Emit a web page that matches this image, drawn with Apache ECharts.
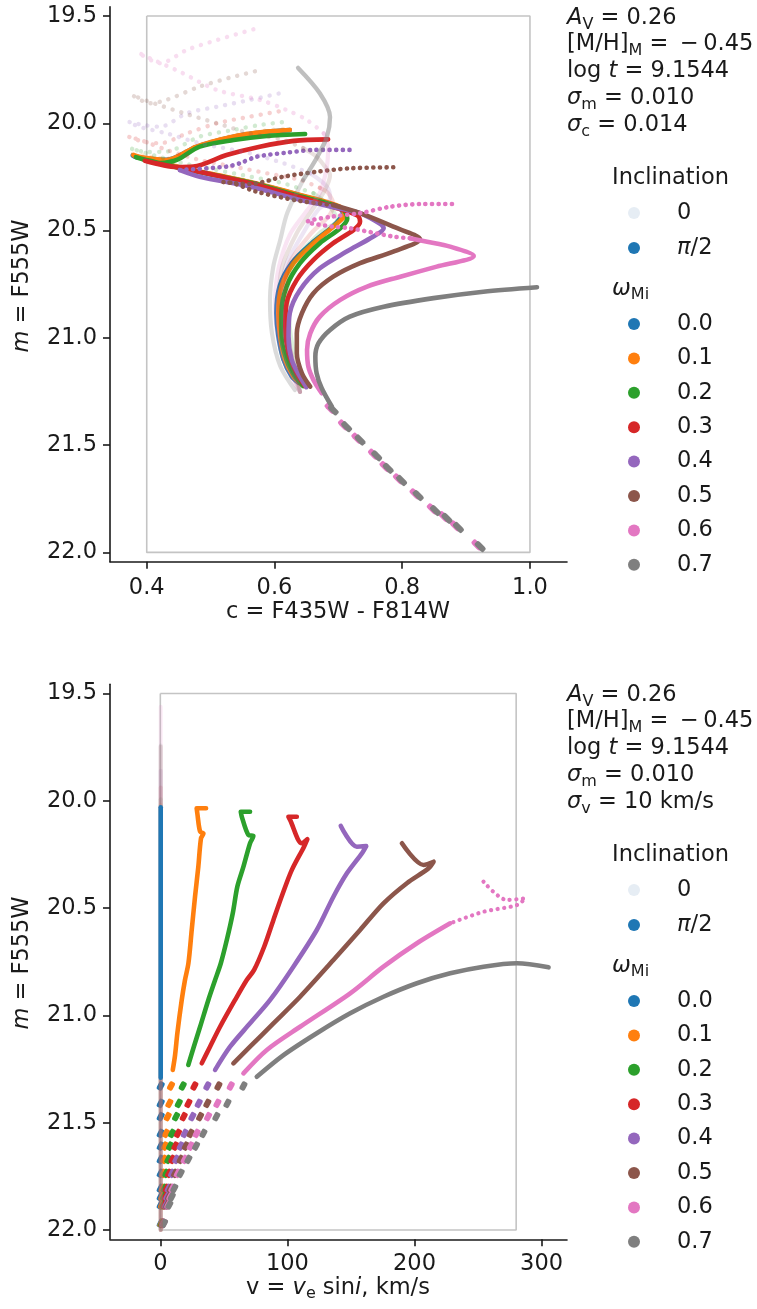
<!DOCTYPE html>
<html><head><meta charset="utf-8">
<script src="https://cdn.jsdelivr.net/npm/echarts@6/dist/echarts.min.js"></script>
<style>html,body{margin:0;padding:0;background:#fff}#c{width:757px;height:1309px}</style>
</head><body><div id="c"></div>
<script>
// ---------------- DATA ----------------
const omegaLabels = ['0.0','0.1','0.2','0.3','0.4','0.5','0.6','0.7'];
const inclinationLabels = ['0','π/2'];
const cmdXTicks = [0.4, 0.6, 0.8, 1.0];
const magTicks = [19.5, 20.0, 20.5, 21.0, 21.5, 22.0];
const vXTicks = [0, 100, 200, 300];
const cmdBox = [[0.4,19.5],[1.0,19.5],[1.0,22.0],[0.4,22.0],[0.4,19.5]];
const vBox = [[0,19.5],[280,19.5],[280,22.0],[0,22.0],[0,19.5]];

// top panel: colour c vs magnitude m, inclination pi/2 (dense parts)
const cmdEdge0 = [[0.638,21.21],[0.627,21.18],[0.614,21.10],[0.606,20.99],[0.603,20.885],[0.608,20.76],[0.627,20.652],[0.658,20.56],[0.690,20.485],[0.704,20.44],[0.707,20.42],[0.700,20.39],[0.640,20.335],[0.562,20.276],[0.457,20.21],[0.405,20.172],[0.378,20.15],[0.384,20.158],[0.431,20.17],[0.478,20.11],[0.536,20.063],[0.588,20.04],[0.624,20.032]];
const cmdEdge1 = [[0.640,21.210],[0.630,21.181],[0.617,21.103],[0.609,20.994],[0.606,20.885],[0.611,20.761],[0.630,20.652],[0.661,20.559],[0.692,20.482],[0.706,20.445],[0.710,20.432],[0.703,20.390],[0.640,20.334],[0.562,20.274],[0.457,20.208],[0.405,20.171],[0.379,20.148],[0.384,20.156],[0.431,20.171],[0.478,20.109],[0.536,20.062],[0.588,20.039],[0.624,20.031]];
const cmdEdge2 = [[0.645,21.225],[0.632,21.181],[0.619,21.103],[0.611,20.994],[0.611,20.885],[0.619,20.761],[0.640,20.652],[0.671,20.559],[0.703,20.489],[0.714,20.445],[0.712,20.420],[0.703,20.392],[0.640,20.340],[0.562,20.276],[0.457,20.212],[0.405,20.175],[0.383,20.158],[0.421,20.185],[0.447,20.171],[0.483,20.109],[0.536,20.078],[0.588,20.059],[0.648,20.050]];
const cmdEdge3 = [[0.648,21.225],[0.635,21.165],[0.622,21.072],[0.617,20.948],[0.619,20.839],[0.635,20.730],[0.661,20.637],[0.692,20.559],[0.724,20.497],[0.734,20.459],[0.730,20.430],[0.692,20.390],[0.640,20.345],[0.562,20.280],[0.483,20.227],[0.421,20.190],[0.397,20.175],[0.447,20.204],[0.473,20.202],[0.525,20.148],[0.577,20.109],[0.630,20.082],[0.684,20.075]];
const cmdEdge4 = [[0.650,21.230],[0.640,21.181],[0.627,21.103],[0.622,20.994],[0.624,20.885],[0.640,20.777],[0.671,20.676],[0.713,20.598],[0.750,20.536],[0.771,20.489],[0.766,20.470],[0.734,20.419],[0.713,20.404],[0.640,20.357],[0.562,20.295],[0.483,20.249],[0.452,20.218]];
const cmdEdge5 = [[0.656,21.227],[0.643,21.165],[0.635,21.072],[0.635,20.979],[0.643,20.885],[0.661,20.792],[0.692,20.715],[0.734,20.652],[0.786,20.598],[0.828,20.541],[0.786,20.482],[0.734,20.419],[0.692,20.381]];
const cmdEdge6 = [[0.674,21.258],[0.661,21.196],[0.653,21.134],[0.651,21.056],[0.656,20.979],[0.671,20.901],[0.703,20.823],[0.745,20.761],[0.797,20.715],[0.854,20.668],[0.912,20.618],[0.875,20.575],[0.839,20.552],[0.812,20.536]];
const cmdEdge7 = [[0.690,21.321],[0.674,21.235],[0.666,21.165],[0.664,21.088],[0.669,21.025],[0.687,20.963],[0.718,20.901],[0.771,20.855],[0.849,20.815],[0.927,20.785],[1.011,20.764]];
// top panel: inclination pi/2 (sparse, dotted parts)
const cmdEdgeDots4 = [[0.452,20.218],[0.525,20.202],[0.546,20.186],[0.572,20.156],[0.619,20.137],[0.666,20.124],[0.726,20.124]];
const cmdEdgeDots5 = [[0.692,20.381],[0.640,20.362],[0.572,20.319],[0.536,20.280],[0.520,20.274],[0.562,20.283],[0.614,20.249],[0.666,20.226],[0.718,20.210],[0.786,20.205]];
const cmdEdgeDots6 = [[0.812,20.536],[0.786,20.528],[0.718,20.489],[0.692,20.482],[0.651,20.459],[0.690,20.435],[0.734,20.419],[0.781,20.389],[0.833,20.376],[0.880,20.376]];
// top panel: inclination 0 (faint)
const cmdPole1 = [[0.640,21.22],[0.614,21.10],[0.608,20.95],[0.613,20.80],[0.632,20.66],[0.665,20.55],[0.700,20.465],[0.708,20.43],[0.700,20.395],[0.640,20.336],[0.562,20.272],[0.457,20.205],[0.405,20.165],[0.378,20.142],[0.431,20.165],[0.478,20.105],[0.536,20.057],[0.588,20.033],[0.624,20.025]];
const cmdPole2 = [[0.640,21.252],[0.634,21.131],[0.625,20.977],[0.621,20.823],[0.626,20.670],[0.671,20.511],[0.698,20.451],[0.687,20.389],[0.661,20.326],[0.614,20.280],[0.562,20.249],[0.510,20.218],[0.457,20.186],[0.400,20.140],[0.374,20.116],[0.400,20.134],[0.431,20.132],[0.483,20.062],[0.536,20.031],[0.577,20.008],[0.619,19.993]];
const cmdPole3 = [[0.640,21.252],[0.631,21.131],[0.620,20.977],[0.617,20.823],[0.621,20.670],[0.658,20.511],[0.684,20.437],[0.692,20.381],[0.684,20.325],[0.671,20.301],[0.640,20.264],[0.588,20.233],[0.536,20.202],[0.483,20.171],[0.431,20.124],[0.394,20.082],[0.371,20.062],[0.395,20.086],[0.421,20.093],[0.463,20.047],[0.510,20.000],[0.562,19.969],[0.619,19.938]];
const cmdPole4 = [[0.640,21.252],[0.628,21.131],[0.615,20.977],[0.612,20.823],[0.617,20.670],[0.645,20.511],[0.668,20.404],[0.687,20.348],[0.682,20.295],[0.656,20.233],[0.614,20.186],[0.562,20.140],[0.536,20.124],[0.483,20.093],[0.431,20.047],[0.389,20.017],[0.371,19.993],[0.395,20.008],[0.421,20.016],[0.463,19.953],[0.510,19.923],[0.562,19.891],[0.609,19.860]];
const cmdPole5 = [[0.640,21.252],[0.623,21.131],[0.610,20.977],[0.607,20.823],[0.612,20.670],[0.635,20.511],[0.659,20.404],[0.679,20.311],[0.687,20.241],[0.679,20.202],[0.666,20.156],[0.645,20.116],[0.614,20.078],[0.562,20.047],[0.510,20.000],[0.457,19.952],[0.400,19.895],[0.377,19.868],[0.405,19.907],[0.431,19.891],[0.483,19.829],[0.536,19.783],[0.583,19.748]];
const cmdPole6 = [[0.640,21.252],[0.618,21.131],[0.604,20.977],[0.601,20.823],[0.607,20.670],[0.624,20.520],[0.648,20.418],[0.671,20.325],[0.682,20.202],[0.684,20.109],[0.677,20.047],[0.651,19.985],[0.619,19.938],[0.577,19.891],[0.510,19.845],[0.452,19.760],[0.405,19.697],[0.387,19.671],[0.421,19.720],[0.463,19.658],[0.510,19.612],[0.567,19.562]];
const cmdPole7 = [[0.632,21.243],[0.609,21.131],[0.596,20.977],[0.593,20.823],[0.598,20.670],[0.609,20.544],[0.620,20.418],[0.645,20.264],[0.667,20.157],[0.682,20.064],[0.687,19.971],[0.671,19.860],[0.637,19.742]];
// lower main sequence clumps (shared by all rotation rates)
const msMag = [21.336,21.414,21.476,21.550,21.608,21.665,21.735,21.805,21.841,21.884,21.973];
const msColourGray = [0.692,0.713,0.734,0.760,0.778,0.799,0.825,0.852,0.870,0.888,0.922];
const msColourPink = [0.687,0.708,0.729,0.755,0.773,0.794,0.820,0.847,0.865,0.883,0.917];
const msMagPink = [21.328,21.406,21.468,21.542,21.600,21.657,21.727,21.797,21.833,21.876,21.965];

// bottom panel: v sin i vs magnitude m, inclination pi/2
const vEdge0 = [[0.3,20.030],[0.3,21.290]];
const vEdge1 = [[36.0,20.035],[28.6,20.035],[29.1,20.058],[31.3,20.144],[33.9,20.152],[32.0,20.175],[29.9,20.307],[27.3,20.447],[24.7,20.602],[22.1,20.757],[19.4,20.835],[16.8,20.930],[13.4,21.083],[11.6,21.185],[9.8,21.254]];
const vEdge2 = [[70.6,20.051],[63.3,20.051],[64.1,20.074],[69.3,20.159],[73.2,20.164],[70.6,20.198],[65.4,20.307],[60.6,20.400],[57.0,20.524],[52.3,20.649],[47.6,20.757],[43.1,20.835],[37.8,20.928],[31.3,21.053],[26.0,21.153],[22.0,21.231]];
const vEdge3 = [[107.4,20.074],[100.8,20.074],[102.1,20.089],[111.3,20.198],[115.7,20.179],[113.1,20.214],[103.5,20.322],[96.4,20.431],[89.0,20.555],[81.7,20.680],[73.8,20.788],[68.0,20.835],[58.8,20.928],[47.0,21.053],[39.1,21.146],[32.6,21.223]];
const vEdge4 = [[142.0,20.117],[154.6,20.214],[162.0,20.211],[158.6,20.245],[146.8,20.338],[136.2,20.447],[123.1,20.602],[104.7,20.773],[86.4,20.928],[70.6,21.037],[54.9,21.146],[43.1,21.254]];
const vEdge5 = [[190.1,20.198],[207.1,20.299],[215.0,20.284],[211.0,20.315],[194.0,20.384],[175.6,20.478],[157.2,20.602],[136.2,20.742],[110.0,20.913],[89.0,21.037],[70.6,21.146],[57.5,21.223]];
const vEdge6 = [[228.1,20.571],[201.9,20.664],[175.6,20.773],[149.4,20.897],[110.0,21.053],[83.8,21.161],[65.4,21.270]];
const vEdgeDots6 = [[254.3,20.377],[272.7,20.462],[287.2,20.454],[280.6,20.486],[254.3,20.517],[228.1,20.571]];
const vEdge7 = [[305.5,20.776],[280.6,20.757],[254.3,20.773],[228.1,20.804],[201.9,20.850],[175.6,20.913],[149.4,20.990],[123.1,21.083],[96.9,21.185],[75.9,21.286]];
// bottom panel: pole-on (i = 0) stars sit at v = 0, from their brightest magnitude down
const vPoleTop = [20.03, 20.02, 19.993, 19.938, 19.860, 19.748, 19.562, 19.742];
const vPoleBottom = 22.0;
// bottom panel: lower main sequence rows
const rowMag = [21.329,21.410,21.472,21.550,21.609,21.671,21.736,21.806,21.845,21.883,21.969];
const rowV0 = [0.3,0.3,0.3,0.3,0.3,0.3,0.3,0.3,0.3,0.3,0.3];
const rowV1 = [8.4,7.1,5.8,4.5,3.7,3.2,2.4,1.9,1.6,1.3,0.8];
const rowV2 = [17.6,14.5,12.4,9.2,7.6,6.3,4.5,3.4,2.9,2.4,1.3];
const rowV3 = [26.8,22.1,18.4,13.9,11.8,9.5,6.9,5.0,4.2,3.4,1.9];
const rowV4 = [37.0,30.2,25.2,19.2,16.0,12.6,9.2,6.6,5.5,4.5,2.1];
const rowV5 = [45.7,37.0,31.3,23.9,20.0,16.0,11.6,8.2,6.9,5.5,2.4];
const rowV6 = [55.4,44.9,37.6,28.6,23.9,19.2,13.7,9.5,7.9,6.3,2.7];
const rowV7 = [65.4,52.8,44.1,33.9,28.1,22.1,16.0,11.0,9.0,7.1,2.9];

// ---------------- STYLE / BUILD ----------------
const COLORS = ['#1f77b4','#ff7f0e','#2ca02c','#d62728','#9467bd','#8c564b','#e377c2','#7f7f7f'];
const FONT = 'DejaVu Sans';
const FS = 22.5;
const INK = '#1a1a1a';

const cmdEdge = [cmdEdge0,cmdEdge1,cmdEdge2,cmdEdge3,cmdEdge4,cmdEdge5,cmdEdge6,cmdEdge7];
const cmdEdgeDots = [null,null,null,null,cmdEdgeDots4,cmdEdgeDots5,cmdEdgeDots6,null];
const cmdPole = [null,cmdPole1,cmdPole2,cmdPole3,cmdPole4,cmdPole5,cmdPole6,cmdPole7];
// index along each pole-on track where its upper part starts
const poleSplit = [0, 9, 8, 9, 9, 11, 10, 7];
const poleOpacity = [0, 0.15, 0.17, 0.17, 0.17, 0.18, 0.2, 0.28];
const poleUpperOpacity = [0, 0.2, 0.22, 0.22, 0.22, 0.23, 0.25, 0.5];
const poleUpperDotted = [false, true, true, true, true, true, true, false];
const vEdge = [vEdge0,vEdge1,vEdge2,vEdge3,vEdge4,vEdge5,vEdge6,vEdge7];
const vEdgeDots = [null,null,null,null,null,null,vEdgeDots6,null];
const rowV = [rowV0,rowV1,rowV2,rowV3,rowV4,rowV5,rowV6,rowV7];

function line(g, data, color, opacity, width, dotted, gap) {
  return {type:'line', xAxisIndex:g, yAxisIndex:g, data:data, symbol:'none', showSymbol:false,
    smooth:0.3, silent:true, animation:false, clip:false,
    lineStyle:{color:color, width:width, opacity:opacity, cap:'round', join:'round',
      type: dotted ? [0.1, gap || 6.5] : 'solid'}};
}
function dashes(g, data, color, size, rot, opacity) {
  return {type:'scatter', xAxisIndex:g, yAxisIndex:g, data:data, symbol:'roundRect',
    symbolSize:size, symbolRotate:rot, silent:true, animation:false,
    itemStyle:{color:color, opacity:opacity}};
}

const series = [];
series.push({type:'line', xAxisIndex:0, yAxisIndex:0, data:cmdBox, symbol:'none', silent:true, animation:false,
  lineStyle:{color:'#c4c4c4', width:1.6}, z:1});
series.push({type:'line', xAxisIndex:1, yAxisIndex:1, data:vBox, symbol:'none', silent:true, animation:false,
  lineStyle:{color:'#c4c4c4', width:1.6}, z:1});

for (let w = 0; w < 8; w++) {
  const col = COLORS[w];
  const pole = cmdPole[w];
  if (pole) {
    const k = Math.min(poleSplit[w], pole.length - 1);
    series.push(line(0, pole.slice(0, k + 1), col, poleOpacity[w], 4.2, false));
    if (k < pole.length - 1) series.push(line(0, pole.slice(k), col, poleUpperOpacity[w], 4.4, poleUpperDotted[w], 9));
  }
  series.push(line(0, cmdEdge[w], col, 1, 4.6, false));
  if (cmdEdgeDots[w]) series.push(line(0, cmdEdgeDots[w], col, 1, 4.6, true));
}
series.push(dashes(0, msColourPink.map((c,i)=>[c, msMagPink[i]]), COLORS[6], [12,6], -45, 1));
series.push(dashes(0, msColourGray.map((c,i)=>[c, msMag[i]]), COLORS[7], [12,6], -45, 1));

for (let w = 1; w < 8; w++) {
  series.push(line(1, [[0.3, vPoleTop[w]],[0.3, vPoleBottom]], COLORS[w], 0.15, 4, false));
}
for (let w = 0; w < 8; w++) {
  const col = COLORS[w];
  series.push(line(1, vEdge[w], col, 1, 4.6, false));
  if (vEdgeDots[w]) series.push(line(1, vEdgeDots[w], col, 1, 4.2, true));
  series.push(dashes(1, rowV[w].map((v,i)=>[v, rowMag[i]]), col, [6,9], -28, 1));
}

function axisCommon(ticks, fmt, margin) {
  return {
    axisLine:{show:true, onZero:false, lineStyle:{color:INK, width:1.6}},
    axisTick:{show:true, length:7, lineStyle:{color:INK, width:1.6}, customValues:ticks},
    axisLabel:{customValues:ticks, formatter:fmt, color:INK, fontSize:FS, fontFamily:FONT, margin:margin},
    splitLine:{show:false}
  };
}
const f1 = v => Number(v).toFixed(1);
const f0 = v => String(Math.round(v));

const xAxis = [
  Object.assign({type:'value', gridIndex:0, min:0.3425, max:1.058}, axisCommon(cmdXTicks, f1, 15)),
  Object.assign({type:'value', gridIndex:1, min:-39.6, max:320}, axisCommon(vXTicks, f0, 13))
];
const yAxis = [
  Object.assign({type:'value', gridIndex:0, inverse:true, min:19.4567, max:22.0433}, axisCommon(magTicks, f1, 13)),
  Object.assign({type:'value', gridIndex:1, inverse:true, min:19.4567, max:22.0433}, axisCommon(magTicks, f1, 13))
];

// ---------- text / legend (graphic) ----------
const rich = {
  i:{fontStyle:'italic', fontSize:FS, fontFamily:FONT, color:INK, lineHeight:28},
  s:{fontSize:16, fontFamily:FONT, color:INK, lineHeight:14, verticalAlign:'bottom'},
  n:{fontSize:FS, fontFamily:FONT, color:INK, lineHeight:28}
};
function txt(x, y, text, align, rot) {
  return {type:'text', x:x, y:y, rotation: rot || 0, silent:true,
    style:{text:text, rich:rich, fontSize:FS, fontFamily:FONT, fill:INK, align:align||'left', verticalAlign:'middle', lineHeight:28}};
}
const graphics = [];
function panelText(dy, lastLine) {
  const lines = [
    '{i|A}{s|V}{n| = 0.26}',
    '{n|[M/H]}{s|M}{n| = \u2009\u2212\u20090.45}',
    '{n|log }{i|t}{n| = 9.1544}',
    '{i|σ}{s|m}{n| = 0.010}',
    lastLine
  ];
  const ys = [18.5, 44.5, 71.5, 98.5, 125.5];
  lines.forEach((l, k) => graphics.push(txt(567, ys[k] + dy, l, 'left')));
  graphics.push(txt(612, 178 + dy, '{n|Inclination}', 'left'));
  graphics.push({type:'circle', shape:{cx:634, cy:213 + dy, r:6}, style:{fill:'#e6edf4'}, silent:true});
  graphics.push(txt(677, 213 + dy, '{n|' + inclinationLabels[0] + '}', 'left'));
  graphics.push({type:'circle', shape:{cx:634, cy:248 + dy, r:6}, style:{fill:COLORS[0]}, silent:true});
  graphics.push(txt(677, 248 + dy, '{i|π}{n|/2}', 'left'));
  graphics.push(txt(612, 289 + dy, '{i|ω}{s|Mi}', 'left'));
  omegaLabels.forEach((lab, k) => {
    const y = 324 + k * 34.4 + dy;
    graphics.push({type:'circle', shape:{cx:634, cy:y, r:6}, style:{fill:COLORS[k]}, silent:true});
    graphics.push(txt(677, y, '{n|' + lab + '}', 'left'));
  });
}
panelText(0, '{i|σ}{s|c}{n| = 0.014}');
panelText(677, '{i|σ}{s|v}{n| = 10 km/s}');
// axis titles
graphics.push(txt(338, 612, '{n|c = F435W - F814W}', 'center'));
graphics.push(txt(338, 1288, '{n|v = }{i|v}{s|e}{n| sin}{i|i}{n|, km/s}', 'center'));
graphics.push(txt(22, 286, '{i|m}{n| = F555W}', 'center', Math.PI / 2));
graphics.push(txt(22, 963, '{i|m}{n| = F555W}', 'center', Math.PI / 2));

const chart = echarts.init(document.getElementById('c'), null, {renderer:'canvas'});
chart.setOption({
  animation:false,
  backgroundColor:'#ffffff',
  grid:[
    {left:110, right:190, top:6.7, bottom:1309 - 561.7},
    {left:110, right:190, top:684.2, bottom:1309 - 1239.3}
  ],
  xAxis:xAxis, yAxis:yAxis, series:series, graphic:graphics
});
</script></body></html>
